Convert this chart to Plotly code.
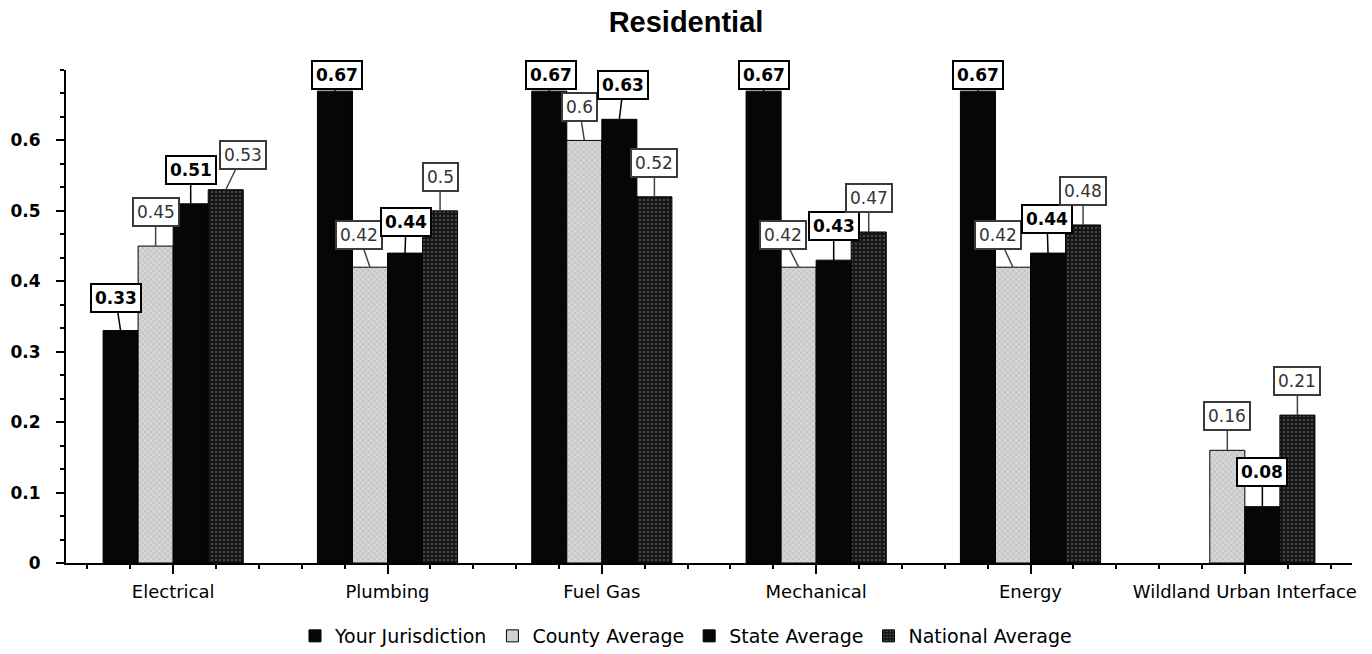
import plotly.graph_objects as go

# ---- data ---------------------------------------------------------------
categories = ["Electrical", "Plumbing", "Fuel Gas", "Mechanical", "Energy",
              "Wildland Urban Interface"]
series_names = ["Your Jurisdiction", "County Average", "State Average", "National Average"]
your_jurisdiction = [0.33, 0.67, 0.67, 0.67, 0.67, None]
county_average = [0.45, 0.42, 0.60, 0.42, 0.42, 0.16]
state_average = [0.51, 0.44, 0.63, 0.43, 0.44, 0.08]
national_average = [0.53, 0.50, 0.52, 0.47, 0.48, 0.21]
y_tick_values = [0, 0.1, 0.2, 0.3, 0.4, 0.5, 0.6]
y_tick_labels = ["0", "0.1", "0.2", "0.3", "0.4", "0.5", "0.6"]

series_values = [your_jurisdiction, county_average, state_average, national_average]

# ---- styling ------------------------------------------------------------
BAR_GAP = 0.346
positions = list(range(len(categories)))

bar_styles = [
    dict(color="#060606", pattern=dict(shape="")),
    dict(color="#d2d2d2", pattern=dict(shape="x", bgcolor="#d6d6d6", fgcolor="#8a8a8a",
                                       size=4, solidity=0.25)),
    dict(color="#060606", pattern=dict(shape="")),
    dict(color="#1c1c1c", pattern=dict(shape=".", bgcolor="#161616", fgcolor="#9a9a9a",
                                       size=4, solidity=0.2)),
]
label_bold = [True, False, True, False]

# label box offsets (pixels from bar top to box centre)
default_offset = (0, -34)
offset_overrides = {
    ("Electrical", 0): (-5, -33),
    ("Electrical", 3): (17, -35),
    ("Plumbing", 0): (2, -16),
    ("Plumbing", 1): (-11, -32),
    ("Plumbing", 2): (1, -31),
    ("Fuel Gas", 0): (2, -16),
    ("Fuel Gas", 1): (-5, -33),
    ("Fuel Gas", 2): (4, -34),
    ("Mechanical", 0): (0, -16),
    ("Mechanical", 1): (-16, -32),
    ("Energy", 0): (0, -16),
    ("Energy", 1): (-15, -32),
    ("Energy", 2): (-1, -34),
    ("Wildland Urban Interface", 2): (0, -35),
}

fig = go.Figure()
for name, vals, style in zip(series_names, series_values, bar_styles):
    fig.add_trace(go.Bar(
        x=positions, y=vals, name=name,
        marker=dict(color=style["color"], pattern=style["pattern"],
                    line=dict(color="#000000", width=1)),
    ))

# value labels: boxed text connected to the top of each bar
n = len(series_names)
bar_w = (1 - BAR_GAP) / n
for si, vals in enumerate(series_values):
    for ci, v in enumerate(vals):
        if v is None:
            continue
        xc = positions[ci] + (si - (n - 1) / 2) * bar_w
        ax, ay = offset_overrides.get((categories[ci], si), default_offset)
        bold = label_bold[si]
        fig.add_annotation(
            x=xc, y=v, xref="x", yref="y",
            text=f"{v:g}",
            showarrow=True, arrowhead=0, arrowwidth=1.5,
            arrowcolor="#000000" if bold else "#444444",
            ax=ax, ay=ay, standoff=0,
            font=dict(family="DejaVu Sans", size=17,
                      color="#000000" if bold else "#333333",
                      weight="bold" if bold else "normal"),
            bgcolor="#ffffff",
            bordercolor="#000000" if bold else "#3a3a3a",
            borderwidth=2, borderpad=3,
        )

fig.update_layout(
    width=1372, height=654,
    barmode="group", bargap=BAR_GAP, bargroupgap=0,
    plot_bgcolor="#ffffff", paper_bgcolor="#ffffff",
    margin=dict(l=66, r=20, t=70, b=91, autoexpand=False),
    title=dict(text="<b>Residential</b>", x=0.5, xref="container", xanchor="center",
               y=1 - 22 / 654, yref="container", yanchor="middle",
               font=dict(family="Liberation Sans", size=29, color="#000000")),
    legend=dict(orientation="h", x=0.5, xref="container", xanchor="center",
                y=1 - 636 / 654, yref="container", yanchor="middle",
                font=dict(family="DejaVu Sans", size=19, color="#000000"),
                itemwidth=30, tracegroupgap=0),
    showlegend=True,
)

fig.update_xaxes(
    range=[-0.5, len(categories) - 0.5],
    tickmode="array", tickvals=positions, ticktext=categories,
    tickfont=dict(family="DejaVu Sans", size=18, color="#000000"),
    ticks="outside", ticklen=9, tickwidth=2, tickcolor="#000000",
    ticklabelstandoff=2, automargin=False,
    minor=dict(ticks="outside", dtick=0.2, tick0=0, ticklen=4, tickwidth=1.5,
               tickcolor="#000000", showgrid=False),
    showline=True, linecolor="#000000", linewidth=2,
    showgrid=False, zeroline=False, fixedrange=True,
)
fig.update_yaxes(
    range=[0, 0.7],
    tickmode="array", tickvals=y_tick_values, ticktext=y_tick_labels,
    tickfont=dict(family="DejaVu Sans", size=17, color="#000000", weight="bold"),
    ticks="outside", ticklen=8, tickwidth=2, tickcolor="#000000",
    ticklabelstandoff=12, automargin=False,
    minor=dict(ticks="outside", dtick=0.1 / 3, tick0=0, ticklen=4, tickwidth=1.5,
               tickcolor="#000000", showgrid=False),
    showline=True, linecolor="#000000", linewidth=2,
    showgrid=False, zeroline=False, fixedrange=True,
)

fig.write_html("out.html")
